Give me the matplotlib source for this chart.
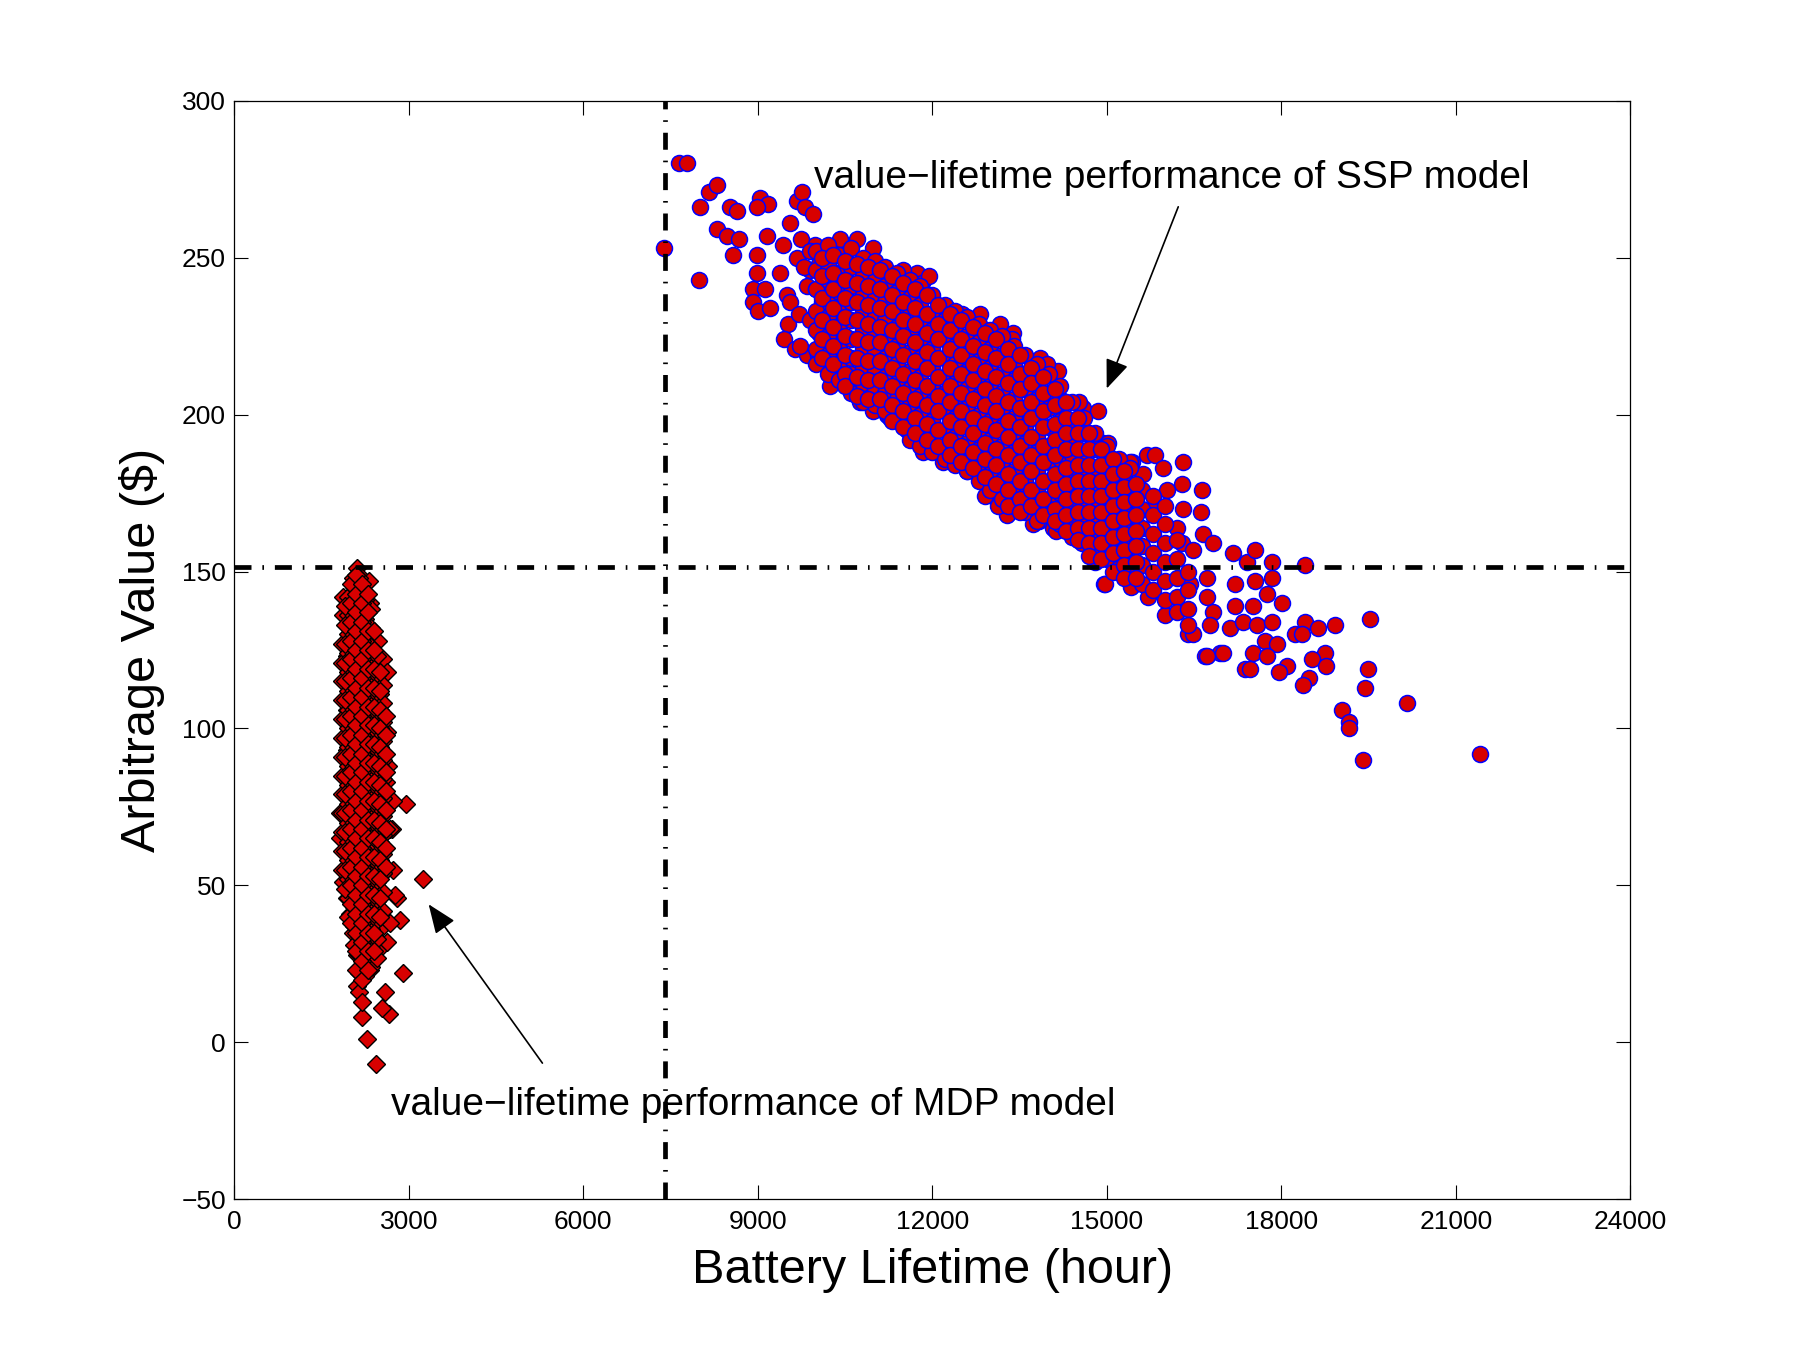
import matplotlib
matplotlib.use("Agg")
import matplotlib.pyplot as plt

plt.rcParams['font.family'] = ['Liberation Sans', 'DejaVu Sans']

# ---------------- data ----------------
# SSP model: scattered / edge points (hour, $)
ssp_edge = [
    (7387, 253), (7637, 280), (7777, 280), (8006, 266), (8166, 271), (8293, 273),
    (7983, 243), (8293, 259), (8465, 257), (8682, 256), (8568, 251), (8522, 266),
    (8637, 265), (9037, 269), (9180, 267), (8980, 266), (9153, 257), (8980, 251),
    (8980, 245), (8923, 240), (8923, 236), (9009, 233), (9124, 240), (9210, 234),
    (9382, 245), (9440, 254), (9554, 261), (9668, 268), (9754, 271), (9811, 266),
    (9954, 264), (9524, 229), (9450, 224), (9639, 221), (9668, 250), (9500, 238),
    (9560, 236), (9839, 219), (10039, 219), (10240, 209), (9839, 241), (9896, 246),
    (9983, 254), (10184, 253), (10412, 256), (10699, 256), (10985, 253), (11731, 245),
    (11817, 242), (12247, 234), (12505, 232), (12820, 232), (13163, 229), (13392, 226),
    (13851, 218), (14166, 214), (14200, 205), (14595, 202), (14939, 191), (15427, 185),
    (15685, 187), (10727, 209), (10756, 204), (11215, 200), (11843, 188), (12188, 185),
    (12704, 183), (13048, 174), (13278, 168), (9725, 222), (10985, 201), (11272, 199),
    (11559, 195), (12590, 182), (13736, 165), (14080, 164), (12899, 174), (13136, 171),
    (13827, 166), (14123, 163), (14578, 159), (14914, 155), (14953, 146), (15407, 145),
    (15704, 142), (16000, 136), (16395, 130), (16691, 123), (16948, 124),
    (9750, 256), (9900, 252), (10050, 248), (10150, 243), (9800, 247), (10000, 240),
    (10100, 236), (9700, 232), (9900, 230), (10050, 226), (13373, 224), (13965, 216),
    (14519, 204), (14854, 201), (15012, 191), (11500, 246), (11950, 244),
    # transition region
    (15399, 185), (15828, 187), (16303, 185), (15627, 181), (15971, 183), (16287, 178),
    (16642, 176), (16314, 170), (16613, 169), (16028, 176), (15828, 171), (16201, 164),
    (16647, 162), (16287, 159), (16830, 159), (17174, 156), (17404, 153), (16487, 157),
    (14968, 146), (16430, 146), (16716, 148), (17203, 146), (17203, 139), (16716, 142),
    (16830, 137), (17117, 132), (16773, 133), (16487, 130), (16716, 123), (17002, 124),
    (17375, 119), (17346, 134), (17575, 133),
    # tail
    (17541, 157), (17839, 153), (18412, 152), (17541, 147), (17839, 148), (17747, 143),
    (18016, 140), (17517, 139), (19524, 135), (17839, 134), (18412, 134), (18625, 132),
    (18922, 133), (18235, 130), (18350, 130), (17718, 128), (17930, 127), (17517, 124),
    (17747, 123), (18744, 124), (18527, 122), (18773, 120), (18092, 120), (17965, 118),
    (19495, 119), (19438, 113), (18470, 116), (18377, 114), (20155, 108), (19037, 106),
    (19163, 102), (19163, 100), (19398, 90), (21415, 92), (17461, 119),
]

# SSP model: dense core, read column by column (hour -> values)
ssp_core_x = [10000, 10210, 10390, 10610, 10800, 11010, 11190, 11400, 11610, 11790,
              12000, 12210, 12390, 12600, 12810, 12990, 13200, 13410, 13590, 13800,
              14010, 14190, 14400, 14610, 14790, 15000, 15210, 15390,
              15600, 15800, 16000, 16200, 16400]
ssp_core_y = [
    [252, 246, 240, 233, 227, 221, 216],
    [254, 248, 243, 237, 231, 225, 219, 213],
    [251, 245, 239, 234, 228, 222, 216, 211],
    [253, 247, 241, 236, 230, 224, 218, 213, 207],
    [250, 244, 238, 233, 227, 221, 215, 210, 204],
    [249, 243, 237, 231, 226, 220, 214, 208, 203],
    [247, 241, 236, 230, 224, 218, 212, 207, 201],
    [245, 239, 233, 228, 222, 216, 210, 205, 199],
    [243, 237, 232, 226, 220, 214, 208, 203, 197, 192],
    [241, 235, 229, 223, 218, 212, 206, 200, 195, 190],
    [238, 232, 227, 221, 215, 209, 204, 198, 192, 188],
    [235, 230, 224, 218, 212, 207, 201, 195, 190, 186],
    [233, 227, 222, 216, 210, 204, 199, 193, 188, 184],
    [231, 225, 219, 214, 208, 202, 197, 191, 186, 182],
    [229, 223, 217, 211, 206, 200, 194, 189, 183, 179],
    [227, 221, 215, 209, 204, 198, 192, 187, 181, 176],
    [225, 219, 213, 207, 201, 196, 190, 184, 179, 173],
    [222, 216, 211, 205, 199, 193, 188, 182, 176, 171],
    [219, 213, 208, 202, 196, 191, 185, 179, 174, 169],
    [216, 210, 205, 199, 193, 188, 182, 176, 171, 166],
    [213, 207, 202, 196, 190, 185, 179, 173, 168],
    [209, 203, 198, 192, 186, 181, 175, 170, 165],
    [204, 198, 193, 187, 182, 176, 171, 166, 161],
    [199, 194, 188, 183, 177, 172, 167, 162],
    [194, 189, 183, 178, 173, 168, 163, 158, 153],
    [190, 185, 179, 174, 169, 164, 159, 154],
    [186, 181, 176, 171, 166, 161, 156, 151],
    [183, 178, 173, 168, 163, 158, 153, 149],
    [176, 170, 164, 158, 152, 146],
    [174, 168, 162, 156, 150, 144],
    [171, 165, 159, 153, 147, 141],
    [160, 154, 148, 142, 137],
    [150, 144, 138, 133],
]
# SSP model: second (interleaved) reading of the dense core
ssp_core2_x = [10100, 10300, 10500, 10700, 10900, 11100, 11300, 11500, 11700, 11900,
               12100, 12300, 12500, 12700, 12900, 13100, 13300, 13500, 13700, 13900,
               14100, 14300, 14500, 14700, 14900, 15100, 15300, 15500]
ssp_core2_y = [
    [250, 244, 237, 230, 224, 218],
    [251, 245, 240, 234, 228, 222, 216],
    [249, 243, 237, 231, 225, 219, 213, 209],
    [248, 242, 236, 230, 224, 218, 212, 206],
    [247, 241, 235, 229, 223, 217, 211, 205],
    [246, 240, 234, 228, 223, 217, 211, 205],
    [244, 238, 233, 227, 221, 215, 209, 203, 198],
    [242, 236, 230, 225, 219, 213, 207, 201, 196],
    [240, 234, 229, 223, 217, 211, 205, 199, 194],
    [238, 232, 226, 220, 215, 209, 203, 197, 192],
    [235, 229, 224, 218, 212, 206, 201, 195, 190],
    [232, 227, 221, 215, 209, 204, 198, 192, 187],
    [230, 224, 219, 213, 207, 201, 196, 190, 185],
    [228, 222, 216, 211, 205, 199, 194, 188, 183],
    [226, 220, 214, 208, 203, 197, 191, 186, 180],
    [224, 218, 212, 206, 201, 195, 189, 184, 178],
    [221, 216, 210, 204, 198, 193, 187, 181, 176, 171],
    [219, 213, 208, 202, 196, 190, 185, 179, 173, 169],
    [215, 210, 204, 199, 193, 187, 182, 176, 171],
    [212, 207, 201, 196, 190, 185, 179, 173, 168],
    [208, 203, 197, 192, 187, 181, 176, 170, 166],
    [204, 199, 194, 189, 183, 178, 173, 168, 163],
    [199, 194, 189, 184, 179, 174, 169, 164, 160],
    [194, 189, 184, 179, 174, 169, 164, 159, 155],
    [189, 184, 179, 174, 169, 164, 159, 154],
    [186, 181, 176, 171, 166, 161, 156, 150],
    [182, 177, 172, 167, 162, 157, 152, 148],
    [178, 173, 168, 163, 158, 153, 148],
]

# MDP model: scattered / edge points
mdp_edge = [
    (2115, 151), (2046, 148), (2190, 148), (2333, 140), (1874, 136), (1989, 140),
    (2161, 135), (2362, 131), (2476, 128), (1989, 129), (2190, 126), (2562, 122),
    (2631, 118), (1932, 123), (2190, 118), (2333, 120), (2505, 111), (2104, 112),
    (1932, 106), (2218, 108), (2505, 103), (2620, 99), (2104, 99), (1932, 93),
    (2304, 92), (2648, 88), (2104, 89), (1989, 86), (2190, 83), (2608, 83),
    (2952, 76), (2734, 77), (2046, 77), (2448, 78), (2276, 75), (2046, 70),
    (2706, 68), (2448, 69), (3249, 52), (2734, 55), (2791, 46), (2848, 39),
    (2906, 22), (2665, 9), (2276, 1), (2436, -7), (2190, 8), (2534, 11),
    (2104, 18), (2591, 16), (2333, 23), (2104, 28), (2505, 30), (2046, 35),
    (2505, 36), (2620, 32), (1989, 41), (2276, 42), (2677, 38), (1932, 46),
    (2333, 48), (2762, 47), (1874, 51), (2132, 52), (2562, 54), (1932, 62),
    (2132, 61), (2448, 63), (1817, 65), (1989, 69), (2333, 70), (2677, 68),
    (2075, 71), (1817, 73), (2276, 75), (2448, 72), (1877, 142), (2311, 147),
]

# MDP model: dense core, column by column
mdp_core_x = [1850, 1950, 2050, 2150, 2250, 2350, 2450, 2550,
              1900, 2000, 2100, 2200, 2300, 2400, 2500, 2600]
mdp_core_y = [
    [127, 121, 115, 109, 103, 97, 91, 85, 79, 73, 67, 61, 55],
    [142, 136, 130, 124, 118, 112, 106, 100, 94, 88, 82, 76, 70, 64, 58, 52, 46, 40],
    [145, 139, 133, 127, 121, 115, 109, 103, 97, 91, 85, 79, 73, 67, 61, 55, 49, 43, 37, 31],
    [148, 142, 136, 130, 124, 118, 112, 106, 100, 94, 88, 82, 76, 70, 64, 58, 52, 46, 40, 34, 28, 22, 16],
    [141, 135, 129, 123, 117, 111, 105, 99, 93, 87, 81, 75, 69, 63, 57, 51, 45, 39, 33, 27, 21],
    [138, 132, 126, 120, 114, 108, 102, 96, 90, 84, 78, 72, 66, 60, 54, 48, 42, 36, 30, 24],
    [123, 117, 111, 105, 99, 93, 87, 81, 75, 69, 63, 57, 51, 45, 39, 33, 27],
    [114, 108, 102, 96, 90, 84, 78, 72, 66, 60, 54, 48, 42],
    [139, 133, 127, 121, 115, 109, 103, 97, 91, 85, 79, 73, 67, 61, 55, 49],
    [146, 140, 134, 128, 122, 116, 110, 104, 98, 92, 86, 80, 74, 68, 62, 56, 50, 44, 38],
    [149, 143, 137, 131, 125, 119, 113, 107, 101, 95, 89, 83, 77, 71, 65, 59, 53, 47, 41, 35, 29, 23],
    [146, 140, 134, 128, 122, 116, 110, 104, 98, 92, 86, 80, 74, 68, 62, 56, 50, 44, 38, 32, 26, 20, 13],
    [143, 137, 131, 125, 119, 113, 107, 101, 95, 89, 83, 77, 71, 65, 59, 53, 47, 41, 35, 29, 23],
    [131, 125, 119, 113, 107, 101, 95, 89, 83, 77, 71, 65, 59, 53, 47, 41, 35, 29],
    [118, 112, 106, 100, 94, 88, 82, 76, 70, 64, 58, 52, 46, 40],
    [104, 98, 92, 86, 80, 74, 68, 62, 56],
]

v_threshold = 7400      # hour
h_threshold = 151.5     # $

x_ticks = [0, 3000, 6000, 9000, 12000, 15000, 18000, 21000, 24000]
y_ticks = [-50, 0, 50, 100, 150, 200, 250, 300]

ssp_label = 'value\u2212lifetime performance of SSP model'
mdp_label = 'value\u2212lifetime performance of MDP model'

# ---------------- assemble ----------------
ssp_x = [p[0] for p in ssp_edge]
ssp_y = [p[1] for p in ssp_edge]
for cx, ys in list(zip(ssp_core_x, ssp_core_y)) + list(zip(ssp_core2_x, ssp_core2_y)):
    ssp_x += [cx] * len(ys)
    ssp_y += ys
mdp_x = [p[0] for p in mdp_edge]
mdp_y = [p[1] for p in mdp_edge]
for cx, ys in zip(mdp_core_x, mdp_core_y):
    mdp_x += [cx] * len(ys)
    mdp_y += ys

# ---------------- plot ----------------
fig = plt.figure(figsize=(18.02, 13.5), dpi=100)
ax = fig.add_axes([0.130, 0.1116, 0.7748, 0.8138])

red = '#d80000'
ax.plot(mdp_x, mdp_y, linestyle='none', marker='D', markersize=9.5,
        markerfacecolor=red, markeredgecolor='black', markeredgewidth=1.0, zorder=3)
ax.plot(ssp_x, ssp_y, linestyle='none', marker='o', markersize=11.5,
        markerfacecolor=red, markeredgecolor='#0000ff', markeredgewidth=1.1, zorder=3)

dash = (0, (3.6, 2.3, 0.35, 2.3))
ax.axvline(v_threshold, color='black', linewidth=3.4, linestyle=dash, zorder=4)
ax.axhline(h_threshold, color='black', linewidth=3.4, linestyle=dash, zorder=4)

ax.text(9966, 272.2, ssp_label, fontsize=28, ha='left', va='baseline', zorder=5)
ax.text(2689, -23.0, mdp_label, fontsize=28, ha='left', va='baseline', zorder=5)

arrow = dict(arrowstyle='-|>,head_length=1.0,head_width=0.4', color='black',
             lw=1.2, shrinkA=0, shrinkB=0, mutation_scale=18)
ax.annotate('', xy=(14997, 208.3), xytext=(16227, 266.2), arrowprops=arrow, zorder=6)
ax.annotate('', xy=(3341, 44.0), xytext=(5297, -6.6), arrowprops=arrow, zorder=6)

ax.set_xlim(0, 24000)
ax.set_ylim(-50, 300)
ax.set_xticks(x_ticks)
ax.set_yticks(y_ticks)
ax.set_xticklabels([str(t) for t in x_ticks])
ax.set_yticklabels([str(t).replace('-', '\u2212') for t in y_ticks])
ax.tick_params(direction='in', length=10, width=0.8, top=True, right=True,
               labelsize=19)
ax.tick_params(axis='x', pad=8)
ax.tick_params(axis='y', pad=6)
for s in ax.spines.values():
    s.set_linewidth(0.9)

ax.set_xlabel('Battery Lifetime (hour)', fontsize=35, labelpad=10)
ax.set_ylabel('Arbitrage Value ($)', fontsize=35, labelpad=12)

fig.savefig('out.png', dpi=100)
